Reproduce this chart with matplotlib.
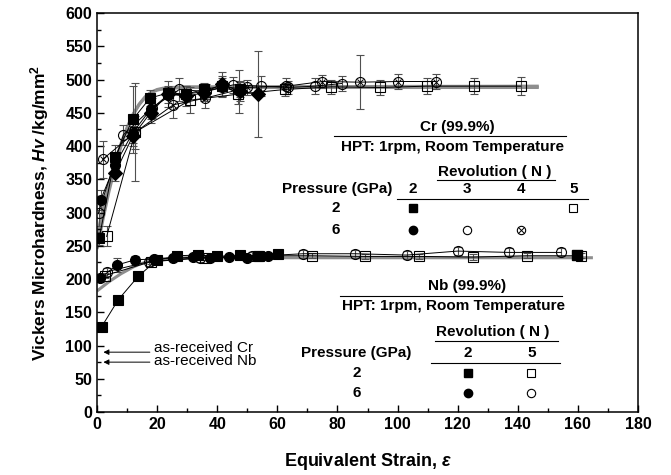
import matplotlib
matplotlib.use('Agg')
import matplotlib.pyplot as plt

plt.rcParams['font.family'] = ['Liberation Sans', 'DejaVu Sans']
plt.rcParams['font.weight'] = 'bold'
plt.rcParams['mathtext.fontset'] = 'custom'
plt.rcParams['mathtext.rm'] = 'Liberation Sans:bold'
plt.rcParams['mathtext.it'] = 'Liberation Sans:bold:italic'
plt.rcParams['mathtext.bf'] = 'Liberation Sans:bold'

# ---- Cr (99.9%) ----
# 2 GPa, N=2 (filled square)
cr_sq_f_x = [0.7, 6, 11.9, 17.6, 23.7, 29.6, 35.5, 41.5, 47.5]
cr_sq_f_y = [261, 384, 440, 472, 480, 478, 485, 490, 486]
cr_sq_f_e = [10, 18, 50, 12, 10, 12, 10, 15, 12]
# 6 GPa, N=2 (filled circle)
cr_ci_f_x = [1.2, 6, 11.9, 17.8, 23.7, 29.6, 35.5, 41.5, 47.4]
cr_ci_f_y = [319, 372, 420, 455, 477, 478, 482, 488, 482]
cr_ci_f_e = [15, 15, 15, 15, 12, 12, 12, 15, 33]
# filled diamond
cr_dm_x = [6, 11.9, 17.8, 23.7, 29.6, 35.5, 41.5, 47.5, 53.5]
cr_dm_y = [359, 415, 450, 478, 475, 480, 493, 482, 478]
cr_dm_e = [12, 15, 15, 20, 15, 12, 18, 15, 65]
# 6 GPa, N=3 (open circle)
cr_ci_o_x = [0.5, 8.8, 18.2, 27.4, 36.3, 45.3, 54.4, 63.4, 72.5, 81.4]
cr_ci_o_y = [300, 417, 457, 485, 482, 492, 490, 488, 490, 494]
cr_ci_o_e = [20, 15, 15, 18, 12, 12, 15, 10, 12, 12]
# 6 GPa, N=4 (crossed circle)
cr_ox_x = [1.9, 12.5, 25.4, 36, 50, 63, 75, 87.5, 100.2, 112.7]
cr_ox_y = [380, 420, 462, 472, 488, 490, 497, 496, 497, 497]
cr_ox_e = [28, 25, 20, 15, 12, 12, 10, 41, 12, 12]
# 2 GPa, N=5 (open square)
cr_sq_o_x = [3.2, 12.7, 31, 47, 62.5, 78, 94, 109.7, 125.4, 141]
cr_sq_o_y = [264, 421, 469, 478, 485, 489, 488, 490, 490, 490]
cr_sq_o_e = [15, 74, 20, 15, 10, 11, 12, 12, 12, 14]
# fitted curves (gray)
cr_fit1_x = [0, 2, 4, 6, 8, 10, 12, 14, 16, 18, 20, 22, 25, 30, 147]
cr_fit1_y = [245, 290, 332, 368, 400, 426, 447, 462, 473, 480, 484, 486, 487, 488, 488]
cr_fit2_x = [0, 2, 4, 6, 8, 10, 12, 14, 16, 18, 20, 22, 25, 30, 147]
cr_fit2_y = [265, 305, 342, 375, 404, 428, 448, 463, 474, 481, 485, 487, 488, 489, 490]

# ---- Nb (99.9%) ----
nb_sq_f_x = [1.5, 7.1, 13.7, 19.8, 26.7, 33.5, 40, 47.6, 54, 60.2]
nb_sq_f_y = [128, 169, 204, 228, 235, 236, 234, 236, 235, 237]
nb_sq_f_e = [4, 5, 4, 4, 4, 4, 4, 4, 4, 4]
nb_ci_f_x = [1, 6.6, 12.7, 19, 25.4, 32, 37.6, 44, 50, 57]
nb_ci_f_y = [201, 221, 229, 230, 231, 233, 231, 233, 232, 235]
nb_ci_f_e = [5, 10, 5, 4, 4, 4, 4, 4, 4, 4]
nb_ci_o_x = [3.2, 17.2, 34.3, 51.5, 68.6, 85.8, 103, 120, 137, 154.4]
nb_ci_o_y = [211, 226, 232, 234, 238, 238, 236, 242, 240, 240]
nb_ci_o_e = [6, 6, 6, 6, 6, 6, 6, 6, 6, 6]
nb_sq_o_x = [2.5, 17.9, 35.8, 53.6, 71.5, 89.3, 107.2, 125, 143, 161]
nb_sq_o_y = [205, 226, 232, 235, 235, 234, 234, 233, 235, 235]
nb_sq_o_e = [4, 4, 4, 4, 4, 4, 4, 4, 4, 4]
nb_extra_x = [159.6]
nb_extra_y = [236]
nb_fit_x = [0, 2, 4, 6, 8, 10, 12, 14, 16, 18, 20, 24, 30, 165]
nb_fit_y = [182, 189, 196, 202, 208, 213, 218, 222, 225, 228, 230, 231, 232, 232]

as_received_cr = 90
as_received_nb = 75

fig = plt.figure(figsize=(6.71, 4.75), dpi=100)
ax = fig.add_axes([0.1446, 0.1326, 0.8062, 0.84])

GRAY = '#8e8e8e'
for fx, fy in [(cr_fit1_x, cr_fit1_y), (cr_fit2_x, cr_fit2_y), (nb_fit_x, nb_fit_y)]:
    ax.plot(fx, fy, color=GRAY, lw=2.2, zorder=1.5, solid_capstyle='butt')


def series(x, y, e, marker, filled, ms=7.2):
    ax.errorbar(x, y, yerr=e, fmt='-', color='k', lw=0.7, marker=marker, ms=ms,
                mfc='k' if filled else 'none', mec='k', mew=0.8,
                ecolor='#505050', elinewidth=0.8, capsize=3, capthick=0.8, zorder=2)


series(cr_sq_o_x, cr_sq_o_y, cr_sq_o_e, 's', False)
series(cr_ox_x, cr_ox_y, cr_ox_e, 'o', False)
ax.plot(cr_ox_x, cr_ox_y, 'x', color='k', ms=5, mew=0.7, zorder=2.5)
series(cr_ci_o_x, cr_ci_o_y, cr_ci_o_e, 'o', False)
series(cr_sq_f_x, cr_sq_f_y, cr_sq_f_e, 's', True)
series(cr_ci_f_x, cr_ci_f_y, cr_ci_f_e, 'o', True)
series(cr_dm_x, cr_dm_y, cr_dm_e, 'D', True, ms=7)

series(nb_sq_o_x, nb_sq_o_y, nb_sq_o_e, 's', False)
series(nb_ci_o_x, nb_ci_o_y, nb_ci_o_e, 'o', False)
series(nb_sq_f_x, nb_sq_f_y, nb_sq_f_e, 's', True)
series(nb_ci_f_x, nb_ci_f_y, nb_ci_f_e, 'o', True)
ax.plot(nb_extra_x, nb_extra_y, 's', color='k', ms=7.2, zorder=2.5)

# as-received arrows
for val, name, dy in [(as_received_cr, 'Cr', 6), (as_received_nb, 'Nb', 2)]:
    ax.annotate('', xy=(1.2, val), xytext=(18.5, val),
                arrowprops=dict(arrowstyle='-|>', color='k', lw=0.7, mutation_scale=8))
    ax.text(19, val + dy, 'as-received ' + name, fontsize=11, fontweight='normal',
            va='center', ha='left')

# legend block: Cr
fs = 11
ax.text(120, 429, 'Cr (99.9%)', fontsize=fs, ha='center', va='center')
ax.plot([79, 156], [415, 415], color='k', lw=0.8)
ax.text(118.3, 399, 'HPT: 1rpm, Room Temperature', fontsize=fs, ha='center', va='center')
ax.text(132.4, 361, 'Revolution ( N )', fontsize=fs, ha='center', va='center')
ax.plot([113, 152.4], [349, 349], color='k', lw=0.8)
ax.text(79.8, 335, 'Pressure (GPa)', fontsize=fs, ha='center', va='center')
cr_cols = [105, 123, 141, 158.5]
for cx, lab in zip(cr_cols, ['2', '3', '4', '5']):
    ax.text(cx, 335, lab, fontsize=fs, ha='center', va='center')
ax.plot([99.7, 163.3], [321, 321], color='k', lw=0.8)
ax.text(79.5, 307, '2', fontsize=fs, ha='center', va='center')
ax.text(79.5, 274, '6', fontsize=fs, ha='center', va='center')
lms = 5.5
ax.plot(cr_cols[0], 307, 's', color='k', ms=lms)
ax.plot(cr_cols[3], 307, 's', mfc='none', mec='k', mew=0.8, ms=lms)
ax.plot(cr_cols[0], 274, 'o', color='k', ms=lms + 0.5)
ax.plot(cr_cols[1], 274, 'o', mfc='none', mec='k', mew=0.8, ms=lms + 0.5)
ax.plot(cr_cols[2], 274, 'o', mfc='none', mec='k', mew=0.8, ms=lms + 0.5)
ax.plot(cr_cols[2], 274, 'x', color='k', mew=0.7, ms=4)

# legend block: Nb
ax.text(123, 190, 'Nb (99.9%)', fontsize=fs, ha='center', va='center')
ax.plot([80.8, 154.6], [174, 174], color='k', lw=0.8)
ax.text(118.5, 159, 'HPT: 1rpm, Room Temperature', fontsize=fs, ha='center', va='center')
ax.text(131.8, 121, 'Revolution ( N )', fontsize=fs, ha='center', va='center')
ax.plot([112.5, 153.4], [107, 107], color='k', lw=0.8)
ax.text(86.4, 89, 'Pressure (GPa)', fontsize=fs, ha='center', va='center')
nb_cols = [123.3, 144.5]
for cx, lab in zip(nb_cols, ['2', '5']):
    ax.text(cx, 89, lab, fontsize=fs, ha='center', va='center')
ax.plot([111, 154], [74, 74], color='k', lw=0.8)
ax.text(86.4, 59, '2', fontsize=fs, ha='center', va='center')
ax.text(86.4, 28, '6', fontsize=fs, ha='center', va='center')
ax.plot(nb_cols[0], 59, 's', color='k', ms=lms)
ax.plot(nb_cols[1], 59, 's', mfc='none', mec='k', mew=0.8, ms=lms)
ax.plot(nb_cols[0], 28, 'o', color='k', ms=lms + 0.5)
ax.plot(nb_cols[1], 28, 'o', mfc='none', mec='k', mew=0.8, ms=lms + 0.5)

ax.set_xlim(0, 180)
ax.set_ylim(0, 600)
ax.set_xticks(range(0, 181, 20))
ax.set_xticks(range(10, 180, 20), minor=True)
ax.set_yticks(range(0, 601, 50))
ax.set_yticks(range(25, 600, 50), minor=True)
ax.tick_params(which='both', direction='in', labelsize=11.5, width=1)
ax.tick_params(which='major', length=5)
ax.tick_params(which='minor', length=3)
for s in ax.spines.values():
    s.set_linewidth(1.1)
ax.set_xlabel(r'Equivalent Strain, $\varepsilon$', fontsize=13, fontweight='bold', labelpad=14)
ax.set_ylabel(r'Vickers Microhardness, $Hv$ /kg/mm$^2$', fontsize=12.5, fontweight='bold', labelpad=10)

fig.savefig('out.png', dpi=100)
